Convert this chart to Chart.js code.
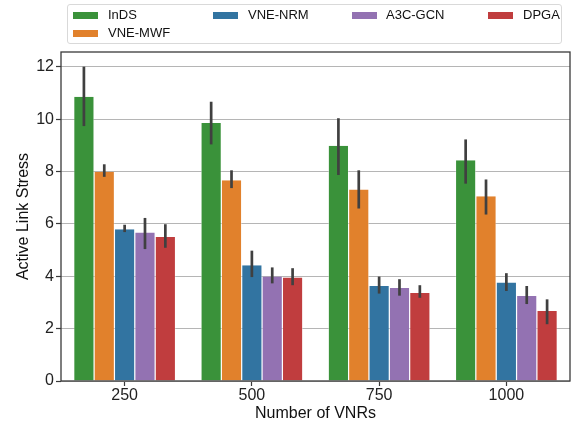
<!DOCTYPE html>
<html lang="en">
<head>
    <meta charset="UTF-8">
    <title>Active Link Stress vs Number of VNRs</title>
    <script src="https://cdn.jsdelivr.net/npm/chart.js@4.4.0/dist/chart.umd.min.js"></script>
    <style>
        body { margin: 0; background: #fff; font-family: "Liberation Sans", Arial, sans-serif; }
        #wrap { position: relative; width: 573px; height: 424px; }
        #legend { position: absolute; left: 67px; top: 4px; width: 495px; height: 40px;
                  border: 1px solid #d9d9d9; border-radius: 3px; background: rgba(255,255,255,0.8); box-sizing: border-box; }
        .item { position: absolute; font-size: 13px; color: #111; line-height: 14px; white-space: nowrap; }
        .sw { position: absolute; width: 25px; height: 7px; }
    </style>
</head>
<body>
<div id="wrap">
    <canvas id="chart" width="573" height="424"></canvas>
    <div id="legend"></div>
</div>
<script>
    const categories = ['250', '500', '750', '1000'];
    const seriesNames = ['InDS', 'VNE-MWF', 'VNE-NRM', 'A3C-GCN', 'DPGA'];
    const colors = ['#3a923a', '#e1812c', '#3274a1', '#9372b2', '#c03d3e'];

    // bar heights
    const inds   = [10.86, 9.86, 8.99, 8.43];
    const mwf    = [7.99, 7.67, 7.32, 7.06];
    const nrm    = [5.80, 4.42, 3.63, 3.76];
    const a3c    = [5.67, 3.99, 3.55, 3.25];
    const dpga   = [5.50, 3.95, 3.36, 2.67];

    // error bar lows / highs
    const indsLo = [9.74, 9.04, 7.87, 7.54];
    const indsHi = [12.01, 10.67, 10.04, 9.23];
    const mwfLo  = [7.80, 7.37, 6.59, 6.36];
    const mwfHi  = [8.28, 8.05, 8.05, 7.70];
    const nrmLo  = [5.69, 3.97, 3.34, 3.44];
    const nrmHi  = [5.97, 4.98, 3.99, 4.12];
    const a3cLo  = [5.04, 3.73, 3.26, 2.94];
    const a3cHi  = [6.23, 4.34, 3.89, 3.63];
    const dpgaLo = [5.09, 3.66, 3.18, 2.17];
    const dpgaHi = [5.99, 4.31, 3.66, 3.12];

    const yTicks = [0, 2, 4, 6, 8, 10, 12];

    const values = [inds, mwf, nrm, a3c, dpga];
    const lows = [indsLo, mwfLo, nrmLo, a3cLo, dpgaLo];
    const highs = [indsHi, mwfHi, nrmHi, a3cHi, dpgaHi];

    const FONT = '"Liberation Sans", Arial, sans-serif';

    // error bars drawn through the y scale
    const errorBars = {
        id: 'errorBars',
        afterDatasetsDraw(chart) {
            const ctx = chart.ctx;
            const y = chart.scales.y;
            ctx.save();
            ctx.strokeStyle = '#404040';
            ctx.lineWidth = 2.7;
            chart.data.datasets.forEach((ds, i) => {
                const meta = chart.getDatasetMeta(i);
                meta.data.forEach((bar, j) => {
                    ctx.beginPath();
                    ctx.moveTo(bar.x, y.getPixelForValue(lows[i][j]));
                    ctx.lineTo(bar.x, y.getPixelForValue(highs[i][j]));
                    ctx.stroke();
                });
            });
            ctx.restore();
        }
    };

    // dark frame round the plot area
    const frame = {
        id: 'frame',
        afterDraw(chart) {
            const a = chart.chartArea;
            const ctx = chart.ctx;
            ctx.save();
            ctx.strokeStyle = '#3a3a3a';
            ctx.lineWidth = 1.3;
            ctx.strokeRect(a.left, a.top, a.right - a.left, a.bottom - a.top);
            ctx.restore();
        }
    };

    new Chart(document.getElementById('chart'), {
        type: 'bar',
        data: {
            labels: categories,
            datasets: seriesNames.map((name, i) => ({
                label: name,
                data: values[i],
                backgroundColor: colors[i],
                borderColor: 'rgba(255,255,255,0.8)',
                borderWidth: { left: 0.6, right: 0.6, top: 0, bottom: 0 },
                categoryPercentage: 0.8,
                barPercentage: 1.0
            }))
        },
        options: {
            responsive: false,
            animation: false,
            layout: { padding: { top: 52, right: 3, left: 0, bottom: 0 } },
            plugins: {
                legend: { display: false },
                tooltip: { enabled: false }
            },
            scales: {
                x: {
                    grid: { display: true, drawOnChartArea: false, offset: false, tickLength: 5, tickColor: '#3a3a3a', tickWidth: 1.2 },
                    border: { display: false },
                    ticks: { color: '#222', font: { family: FONT, size: 16 }, padding: 0 },
                    title: { display: true, text: 'Number of VNRs', color: '#111', font: { family: FONT, size: 16 }, padding: { top: 0, bottom: 1 } },
                    afterFit(scale) { scale.height = 43; }
                },
                y: {
                    min: 0,
                    max: 12.57,
                    afterBuildTicks(scale) { scale.ticks = yTicks.map(v => ({ value: v })); },
                    grid: { color: '#b5b5b5', lineWidth: 1, borderDash: [3, 2], tickLength: 5, tickColor: '#3a3a3a', tickBorderDash: [], tickWidth: 1.2 },
                    border: { display: false },
                    ticks: { color: '#222', font: { family: FONT, size: 16 }, padding: 2 },
                    title: { display: true, text: 'Active Link Stress', color: '#111', font: { family: FONT, size: 16 }, padding: { top: 14, bottom: 4 } },
                    afterFit(scale) { scale.width = 61; }
                }
            }
        },
        plugins: [errorBars, frame]
    });

    // matplotlib-style legend, 4 columns filled column by column
    const legend = document.getElementById('legend');
    const slots = [
        { sx: 5, tx: 40, row: 0 },
        { sx: 5, tx: 40, row: 1 },
        { sx: 145, tx: 180, row: 0 },
        { sx: 284, tx: 318, row: 0 },
        { sx: 420, tx: 455, row: 0 }
    ];
    seriesNames.forEach((name, i) => {
        const s = slots[i];
        const top = s.row === 0 ? 3 : 21;
        const sw = document.createElement('div');
        sw.className = 'sw';
        sw.style.left = s.sx + 'px';
        sw.style.top = (top + 4) + 'px';
        sw.style.background = colors[i];
        legend.appendChild(sw);
        const t = document.createElement('div');
        t.className = 'item';
        t.style.left = s.tx + 'px';
        t.style.top = top + 'px';
        t.textContent = name;
        legend.appendChild(t);
    });
</script>
</body>
</html>
